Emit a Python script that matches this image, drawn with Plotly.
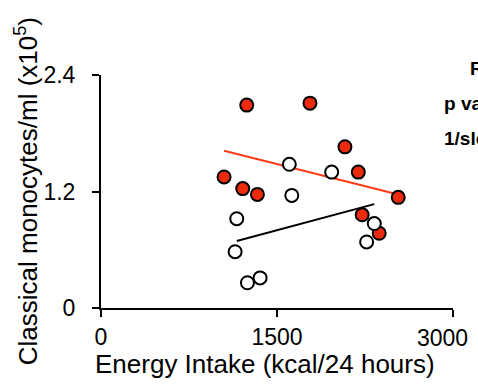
import plotly.graph_objects as go

# Red (filled) group
red_x = [1242, 1781, 2079, 2193, 1049, 1208, 1333, 2533, 2226, 2371]
red_y = [2.09, 2.11, 1.66, 1.40, 1.35, 1.23, 1.17, 1.14, 0.96, 0.77]
# Open (white) group
open_x = [1605, 1966, 1626, 1157, 2329, 2264, 1143, 1356, 1248]
open_y = [1.48, 1.40, 1.16, 0.92, 0.87, 0.68, 0.58, 0.31, 0.26]
# Fit lines (endpoints)
red_fit_x = [1049, 2533]
red_fit_y = [1.62, 1.17]
open_fit_x = [1157, 2329]
open_fit_y = [0.69, 1.07]

x_ticks = [0, 1500, 3000]
x_tick_text = ["0", "1500", "3000"]
y_ticks = [0, 1.2, 2.4]
y_tick_text = ["0", "1.2", "2.4"]
stat_labels = ["R squared", "p value", "1/slope"]
x_title = "Energy Intake (kcal/24 hours)"
y_title = "Classical monocytes/ml (x10<sup>5</sup>)"

RED = "#ee2a0c"
FONT = "Liberation Sans, Arial, Helvetica, sans-serif"

L, R, T, B = 100.7, 453.0, 75.0, 308.3
W, H = 478, 385


def px(xp):
    return (xp - L) / (R - L)


def py(yp):
    return 1 - (yp - T) / (B - T)


fig = go.Figure()
fig.add_trace(go.Scatter(x=red_fit_x, y=red_fit_y, mode="lines",
                         line=dict(color="#ff3a1a", width=2), showlegend=False))
fig.add_trace(go.Scatter(x=open_fit_x, y=open_fit_y, mode="lines",
                         line=dict(color="black", width=2), showlegend=False))
fig.add_trace(go.Scatter(x=red_x, y=red_y, mode="markers",
                         marker=dict(size=13, color=RED, line=dict(color="black", width=2)),
                         showlegend=False, cliponaxis=False))
fig.add_trace(go.Scatter(x=open_x, y=open_y, mode="markers",
                         marker=dict(size=13, color="white", line=dict(color="black", width=2)),
                         showlegend=False, cliponaxis=False))

ann = []
for lab, xp, yp in zip(stat_labels, [468, 442, 442], [68, 104, 139]):
    ann.append(dict(text="<b>%s</b>" % lab, xref="paper", yref="paper",
                    x=px(xp), y=py(yp),
                    xanchor="left", yanchor="middle", showarrow=False,
                    font=dict(size=19, color="black", family=FONT)))
ann.append(dict(text=x_title, xref="paper", yref="paper", x=px(265), y=py(364),
                xanchor="center", yanchor="middle", showarrow=False,
                font=dict(size=26, color="black", family=FONT)))
ann.append(dict(text=y_title, xref="paper", yref="paper", x=px(27), y=py(191),
                xanchor="center", yanchor="middle", showarrow=False, textangle=-90,
                font=dict(size=26, color="black", family=FONT)))
# last x tick label sits left of its tick in the reference (kept inside the frame)
ann.append(dict(text=x_tick_text[-1], xref="paper", yref="paper", x=px(442), y=py(338),
                xanchor="center", yanchor="middle", showarrow=False,
                font=dict(size=23, color="black", family=FONT)))

fig.update_layout(
    width=W, height=H,
    margin=dict(l=L, r=W - R, t=T, b=H - B, autoexpand=False),
    paper_bgcolor="white", plot_bgcolor="white",
    font=dict(family=FONT, color="black", size=23),
    annotations=ann,
    xaxis=dict(range=[0, 3000], tickvals=x_ticks, ticktext=x_tick_text[:-1] + [""],
               ticks="outside", ticklen=7,
               tickwidth=2, tickcolor="black", showline=True, linecolor="black",
               linewidth=2, showgrid=False, zeroline=False, automargin=False,
               tickfont=dict(size=23)),
    yaxis=dict(range=[0, 2.4], tickvals=y_ticks, ticktext=y_tick_text, ticks="outside",
               ticklen=7, tickwidth=2, tickcolor="black", showline=True,
               linecolor="black", linewidth=2, showgrid=False, zeroline=False,
               automargin=False, tickfont=dict(size=23), ticklabelstandoff=12),
)
fig.write_html("out.html", config={"displayModeBar": False},
               post_script="document.body.style.margin='0px';document.body.style.overflow='hidden';")
